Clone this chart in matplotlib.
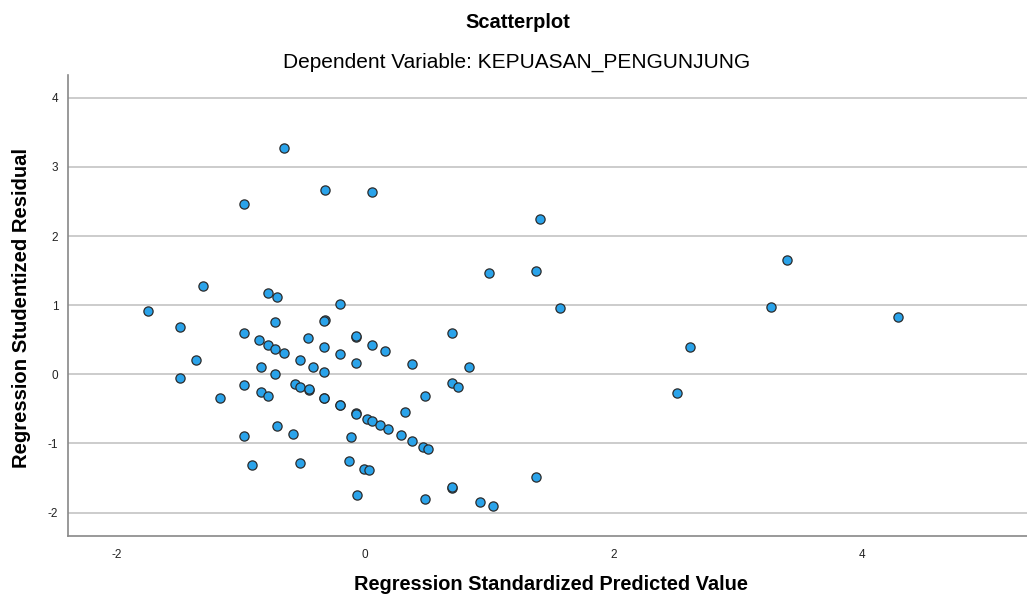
import matplotlib
matplotlib.use("Agg")
import matplotlib.pyplot as plt

# Regression standardized predicted value (x) and studentized residual (y)
pred = [
    -0.65, -0.97, -0.32, 0.06, 1.00, -1.30, -0.78, -0.71, -0.20,
    -1.75, -1.49, -1.36, -1.49, -1.17, -0.97, -0.85, -0.78, -0.72, -0.65,
    -0.72, -0.84, -0.72, -0.97, -0.84, -0.78, -0.52, -0.42, -0.46, -0.33,
    -0.32, -0.33, -0.33, -0.56, -0.52, -0.45, -0.45, -0.33, -0.33, -0.20,
    -0.07, -0.07, -0.07, 0.06, 0.16, -0.20, -0.20, -0.07, -0.07, 0.02,
    0.06, 0.12, 0.19, 0.29, 0.38, 0.47, 0.51, 0.32, 0.38, 0.48,
    0.70, 0.84, 0.70, 0.75, -0.71, -0.58, -0.97, -0.11, -0.91, -0.52,
    -0.13, -0.01, 0.03, -0.06, 0.48, 0.70, 0.70, 0.93, 1.03,
    1.41, 1.38, 1.57, 3.40, 3.27, 4.29, 2.62, 2.51, 1.38,
]
resid = [
    3.27, 2.46, 2.67, 2.64, 1.46, 1.27, 1.17, 1.12, 1.02,
    0.92, 0.69, 0.20, -0.06, -0.34, 0.60, 0.49, 0.43, 0.37, 0.31,
    0.75, 0.11, 0.00, -0.15, -0.26, -0.31, 0.20, 0.11, 0.52, 0.40,
    0.78, 0.77, 0.03, -0.14, -0.18, -0.23, -0.22, -0.34, -0.35, 0.29,
    0.54, 0.55, 0.17, 0.43, 0.34, -0.45, -0.44, -0.56, -0.57, -0.65,
    -0.68, -0.73, -0.79, -0.88, -0.96, -1.05, -1.08, -0.54, 0.15, -0.32,
    0.60, 0.11, -0.13, -0.18, -0.75, -0.87, -0.89, -0.91, -1.31, -1.28,
    -1.25, -1.37, -1.39, -1.74, -1.81, -1.64, -1.63, -1.85, -1.91,
    2.24, 1.49, 0.96, 1.65, 0.97, 0.83, 0.39, -0.27, -1.49,
]
xticks = [-2, 0, 2, 4]
yticks = [-2, -1, 0, 1, 2, 3, 4]

plt.rcParams['font.family'] = ['Liberation Sans', 'DejaVu Sans']
plt.rcParams['axes.unicode_minus'] = False

fig = plt.figure(figsize=(10.27, 5.98), dpi=100)
ax = fig.add_axes([68/1027, 1 - 536/598, 1 - 68/1027, (536 - 75)/598])

ax.scatter(pred, resid, s=44, color='#2aa3ea', edgecolors='#2b2b2b',
           linewidths=0.9, zorder=3)

ax.set_xlim(-2.39, 5.33)
ax.set_ylim(-2.34, 4.33)
ax.set_xticks(xticks)
ax.set_yticks(yticks)
ax.tick_params(length=0, labelsize=8.5, colors='#222222')
ax.tick_params(axis='x', pad=9)
ax.tick_params(axis='y', pad=7)

ax.yaxis.grid(True, color='#cccccc', linewidth=1.4)
ax.set_axisbelow(True)
for side in ['top', 'right']:
    ax.spines[side].set_visible(False)
for side in ['left', 'bottom']:
    ax.spines[side].set_color('#888888')
    ax.spines[side].set_linewidth(1.2)

fig.text(518/1027, 1 - 22/598, 'Scatterplot', ha='center', va='center',
         fontsize=14.5, fontweight='bold')
fig.text(517/1027, 1 - 62/598, 'Dependent Variable: KEPUASAN_PENGUNJUNG',
         ha='center', va='center', fontsize=15)
fig.text(551/1027, 1 - 584/598, 'Regression Standardized Predicted Value',
         ha='center', va='center', fontsize=14.4, fontweight='bold')
fig.text(22/1027, 1 - 308/598, 'Regression Studentized Residual',
         ha='center', va='center', rotation=90, fontsize=14.6,
         fontweight='bold')

fig.savefig('out.png', dpi=100)
